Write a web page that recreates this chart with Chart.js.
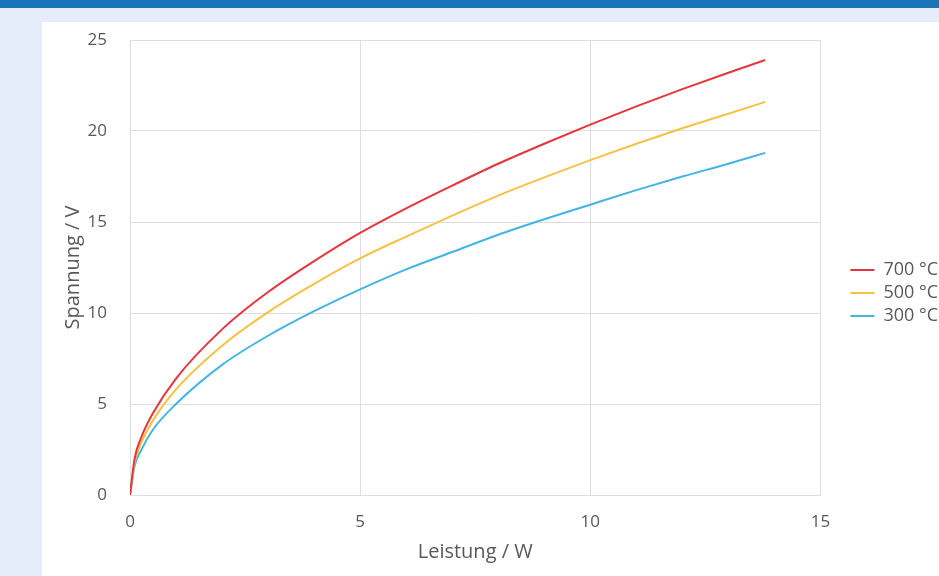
<!DOCTYPE html>
<html>
<head>
<meta charset="utf-8">
<script src="https://cdn.jsdelivr.net/npm/chart.js@4.4.0/dist/chart.umd.min.js"></script>
<style>
  html, body { margin: 0; padding: 0; width: 939px; height: 576px; overflow: hidden; background: #e4edf9; }
  #topbar { position: absolute; left: 0; top: 0; width: 939px; height: 8px; background: #1b74b8; }
  #panel { position: absolute; left: 42px; top: 22px; width: 897px; height: 554px; background: #ffffff; }
</style>
</head>
<body>
<div id="topbar"></div>
<div id="panel"><canvas id="chart" width="897" height="554"></canvas></div>
<script>
// Leistung / W
const power = [0, 0.1, 0.25, 0.5, 1, 2, 3, 4, 5, 6, 7, 8, 9, 10, 11, 12, 13, 13.8];
// Spannung / V
const u700 = [0, 2.0, 3.2, 4.5, 6.4, 9.1, 11.15, 12.85, 14.4, 15.75, 17.0, 18.2, 19.3, 20.35, 21.35, 22.3, 23.2, 23.9];
const u500 = [0, 1.8, 2.9, 4.1, 5.8, 8.2, 10.05, 11.6, 13.0, 14.2, 15.35, 16.45, 17.45, 18.4, 19.3, 20.15, 20.95, 21.6];
const u300 = [0, 1.6, 2.5, 3.6, 5.0, 7.15, 8.75, 10.1, 11.3, 12.4, 13.35, 14.3, 15.15, 15.95, 16.75, 17.5, 18.2, 18.8];
const seriesLabels = ['700 °C', '500 °C', '300 °C'];

const pts = (ys) => power.map((x, i) => ({ x: x, y: ys[i] }));

const ds = (label, ys, color) => ({
    label: label,
    data: pts(ys),
    borderColor: color,
    backgroundColor: color,
    borderWidth: 2,
    pointRadius: 0,
    showLine: true,
    cubicInterpolationMode: 'monotone'
});

const grey = '#595959';
const tickFont = { family: 'Open Sans', size: 17 };
const titleFont = { family: 'Open Sans', size: 20 };
const legendFont = { family: 'Open Sans', size: 18 };

// push the legend away from the plot area, like the Excel original
const LEGEND_GAP = 25;
const legendGap = {
    id: 'legendGap',
    beforeInit(chart) {
        const fit = chart.legend.fit;
        chart.legend.fit = function () {
            fit.call(this);
            this.width += LEGEND_GAP;
        };
    },
    afterLayout(chart) {
        chart.legend.left += LEGEND_GAP;
    }
};

new Chart(document.getElementById('chart').getContext('2d'), {
    type: 'scatter',
    data: {
        datasets: [
            ds(seriesLabels[0], u700, '#e8343c'),
            ds(seriesLabels[1], u500, '#f6c243'),
            ds(seriesLabels[2], u300, '#43b5e5')
        ]
    },
    plugins: [legendGap],
    options: {
        responsive: false,
        animation: false,
        layout: { padding: { left: 19, top: 0, right: -9, bottom: 12 } },
        plugins: {
            legend: {
                position: 'right',
                labels: {
                    usePointStyle: true,
                    pointStyle: 'line',
                    pointStyleWidth: 24,
                    color: grey,
                    font: legendFont,
                    padding: 5
                }
            },
            tooltip: { enabled: false }
        },
        scales: {
            x: {
                min: 0, max: 15,
                afterFit: (s) => { s.height = 69; },
                ticks: { stepSize: 5, color: grey, font: tickFont, padding: 17 },
                grid: { color: '#dedede', drawTicks: false },
                border: { color: '#dedede' },
                title: { display: true, text: 'Leistung / W', color: grey, font: titleFont, padding: 0 }
            },
            y: {
                min: 0, max: 25,
                afterFit: (s) => { s.width = 69; s.paddingTop = 18; },
                ticks: { stepSize: 5, color: grey, font: tickFont, padding: 23 },
                grid: { color: '#dedede', drawTicks: false },
                border: { display: false },
                title: { display: true, text: 'Spannung / V', color: grey, font: titleFont, padding: 0 }
            }
        }
    }
});
</script>
</body>
</html>
